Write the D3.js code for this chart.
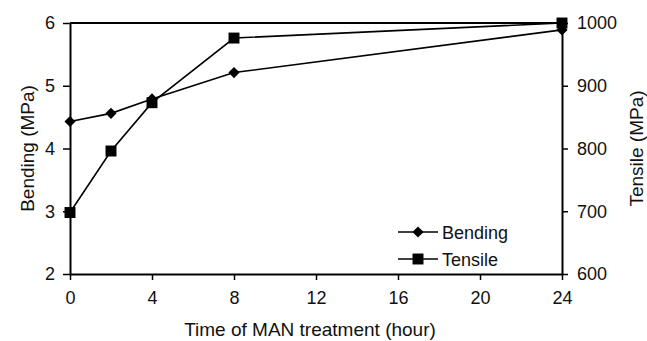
<!DOCTYPE html>
<html>
<head>
<meta charset="utf-8">
<script src="https://cdn.jsdelivr.net/npm/d3@7"></script>
<style>
body { margin: 0; background: #fff; }
text { font-family: "Liberation Sans", Arial, sans-serif; fill: #111; }
</style>
</head>
<body>
<svg id="chart" width="647" height="341"></svg>
<script>
var hours = [0, 2, 4, 8, 24];
var bending = [4.43, 4.56, 4.79, 5.21, 5.89];
var tensile = [698, 796, 873, 976, 1000];
var xTicks = [0, 4, 8, 12, 16, 20, 24];
var leftTicks = [2, 3, 4, 5, 6];
var rightTicks = [600, 700, 800, 900, 1000];

var margin = {top: 23, right: 85, bottom: 67, left: 70},
	width = 647 - margin.left - margin.right,
	height = 341 - margin.top - margin.bottom;

var svg = d3.select("#chart");
var g = svg.append("g").attr("transform", "translate(" + margin.left + "," + margin.top + ")");

var x = d3.scaleLinear().domain([0, 24]).range([0, width]);
var yL = d3.scaleLinear().domain([2, 6]).range([height, 0]);
var yR = d3.scaleLinear().domain([600, 1000]).range([height, 0]);

// frame top
g.append("line").attr("x1", 0).attr("x2", width).attr("y1", 0).attr("y2", 0)
	.style("stroke", "#000").style("stroke-width", 2);

function styleAxis(sel) {
	sel.select(".domain").style("stroke", "#000").style("stroke-width", 2);
	sel.selectAll(".tick line").style("stroke", "#000").style("stroke-width", 1.5);
	sel.selectAll("text").style("font-size", "18px").style("fill", "#111")
		.style("font-family", "'Liberation Sans', Arial, sans-serif");
}

g.append("g").attr("transform", "translate(0," + height + ")")
	.call(d3.axisBottom(x).tickValues(xTicks).tickFormat(d3.format("d")).tickSize(6).tickSizeOuter(0).tickPadding(11))
	.call(styleAxis);
g.append("g")
	.call(d3.axisLeft(yL).tickValues(leftTicks).tickFormat(d3.format("d")).tickSize(7).tickSizeOuter(0).tickPadding(8))
	.call(styleAxis);
g.append("g").attr("transform", "translate(" + width + ",0)")
	.call(d3.axisRight(yR).tickValues(rightTicks).tickFormat(d3.format("d")).tickSize(6).tickSizeOuter(0).tickPadding(9))
	.call(styleAxis);

// axis titles
g.append("text").attr("x", width / 2 - 6).attr("y", height + 62)
	.attr("text-anchor", "middle").style("font-size", "19px")
	.text("Time of MAN treatment (hour)");
g.append("text").attr("transform", "translate(" + (-36) + "," + (height / 2) + ") rotate(-90)")
	.attr("text-anchor", "middle").style("font-size", "19px")
	.text("Bending (MPa)");
g.append("text").attr("transform", "translate(" + (width + 81) + "," + (height / 2) + ") rotate(-90)")
	.attr("text-anchor", "middle").style("font-size", "19px")
	.text("Tensile (MPa)");

// lines
var lineB = d3.line().x(function(d, i){ return x(hours[i]); }).y(function(d){ return yL(d); });
var lineT = d3.line().x(function(d, i){ return x(hours[i]); }).y(function(d){ return yR(d); });

g.append("path").datum(bending).attr("d", lineB)
	.style("fill", "none").style("stroke", "#000").style("stroke-width", 1.6);
g.append("path").datum(tensile).attr("d", lineT)
	.style("fill", "none").style("stroke", "#000").style("stroke-width", 1.6);

var diamond = d3.symbol().type(d3.symbolSquare).size(62);
var square = d3.symbol().type(d3.symbolSquare).size(120);

g.selectAll(".ptB").data(bending).enter().append("path")
	.attr("class", "ptB")
	.attr("transform", function(d, i){ return "translate(" + x(hours[i]) + "," + yL(d) + ") rotate(45)"; })
	.attr("d", diamond).style("fill", "#000");
g.selectAll(".ptT").data(tensile).enter().append("path")
	.attr("class", "ptT")
	.attr("transform", function(d, i){ return "translate(" + x(hours[i]) + "," + yR(d) + ")"; })
	.attr("d", square).style("fill", "#000");

// legend
var legend = g.append("g").attr("transform", "translate(328,209)");
var items = [{name: "Bending", sym: diamond, rot: 45}, {name: "Tensile", sym: square, rot: 0}];
items.forEach(function(it, i){
	var row = legend.append("g").attr("transform", "translate(0," + (i * 27) + ")");
	row.append("line").attr("x1", 0).attr("x2", 40).attr("y1", 0).attr("y2", 0)
		.style("stroke", "#000").style("stroke-width", 1.6);
	row.append("path").attr("transform", "translate(20,0) rotate(" + it.rot + ")").attr("d", it.sym).style("fill", "#000");
	row.append("text").attr("x", 44).attr("y", 6.5).style("font-size", "18px").text(it.name);
});
</script>
</body>
</html>
